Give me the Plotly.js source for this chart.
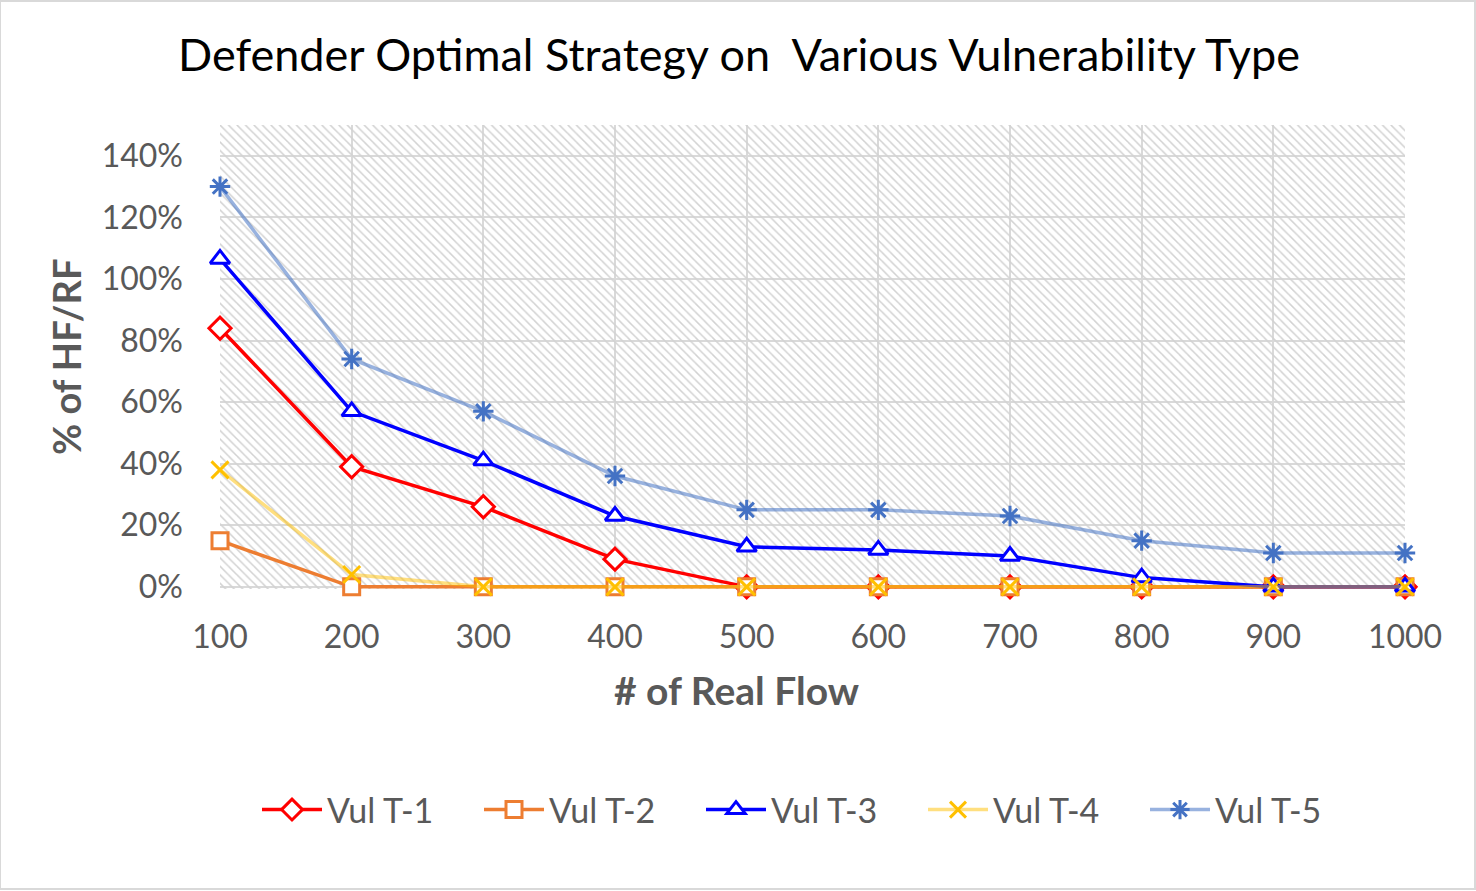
<!DOCTYPE html>
<html>
<head>
<meta charset="utf-8">
<script src="https://cdn.plot.ly/plotly-3.0.1.min.js"></script>
<style>
  body { margin: 0; background: #fff; }
  #chart { width: 1476px; height: 891px; }
</style>
</head>
<body>
<div id="chart"></div>
<script>
var flows = [100, 200, 300, 400, 500, 600, 700, 800, 900, 1000];

var vulT1 = [0.84, 0.39, 0.26, 0.09, 0, 0, 0, 0, 0, 0];
var vulT2 = [0.15, 0, 0, 0, 0, 0, 0, 0, 0, 0];
var vulT3 = [1.065, 0.57, 0.41, 0.23, 0.13, 0.12, 0.10, 0.03, 0, 0];
var vulT4 = [0.38, 0.04, 0, 0, 0, 0, 0, 0, 0, 0];
var vulT5 = [1.30, 0.74, 0.57, 0.36, 0.25, 0.25, 0.23, 0.15, 0.11, 0.11];

var xRange = [100, 1000];
var yRange = [-0.007, 1.5];   // tiny slack below 0 so the zero-level lines are not cut in half
var yTicks = [0, 0.2, 0.4, 0.6, 0.8, 1.0, 1.2, 1.4];
var yTickText = ['0%', '20%', '40%', '60%', '80%', '100%', '120%', '140%'];

var fontFam = 'Lato, "Open Sans", sans-serif';
var grey = '#595959';
var plotH = 891 - 125 - 302;

// hatched plot background, transparent between stripes so the grid shows
var hatch = {
  x: [xRange[0], xRange[1], xRange[1], xRange[0], xRange[0]],
  y: [yRange[0], yRange[0], yRange[1], yRange[1], yRange[0]],
  mode: 'lines',
  line: {width: 0},
  fill: 'toself',
  fillcolor: 'rgba(0,0,0,0)',
  fillpattern: {shape: '\\', fgcolor: '#d2d2d2', bgcolor: 'rgba(255,255,255,0)', size: 6, solidity: 0.25},
  hoverinfo: 'skip',
  showlegend: false
};

function series(name, y, lineColor, sym, mColor, mLine, size) {
  return {
    x: flows, y: y, name: name,
    type: 'scatter', mode: 'lines+markers',
    cliponaxis: false,
    line: {color: lineColor, width: 3.5},
    marker: {symbol: sym, size: size, color: mColor, line: {color: mLine, width: 3}}
  };
}

var data = [
  hatch,
  series('Vul T-1', vulT1, '#ff0000', 'diamond', '#ffffff', '#ff0000', 17),
  series('Vul T-2', vulT2, '#ed7d31', 'square', '#ffffff', '#ed7d31', 16),
  series('Vul T-3', vulT3, '#0000ff', 'triangle-up', '#ffffff', '#0000ff', 17),
  series('Vul T-4', vulT4, 'rgba(255,192,0,0.5)', 'x-thin-open', '#ffc000', '#ffc000', 17),
  series('Vul T-5', vulT5, 'rgba(68,114,196,0.55)', 'asterisk-open', '#4472c4', '#4472c4', 17)
];

var layout = {
  width: 1476, height: 891,
  margin: {l: 220, r: 71, t: 125, b: 302},
  paper_bgcolor: '#ffffff',
  plot_bgcolor: '#ffffff',
  font: {family: fontFam, color: grey},
  showlegend: true,
  title: {
    text: 'Defender Optimal Strategy on  Various Vulnerability Type',
    font: {size: 45, color: '#000000', family: fontFam},
    x: 739 / 1476, xref: 'container', xanchor: 'center',
    y: 1 - 55 / 891, yref: 'container', yanchor: 'middle'
  },
  xaxis: {
    range: xRange, tickvals: flows, ticktext: flows.map(String),
    showgrid: true, gridcolor: '#d9d9d9', gridwidth: 2,
    zeroline: false, showline: false,
    ticks: '', ticklabelstandoff: 26, tickangle: 0,
    tickfont: {size: 32, color: grey}
  },
  yaxis: {
    range: yRange, tickvals: yTicks, ticktext: yTickText,
    showgrid: true, gridcolor: '#d9d9d9', gridwidth: 2,
    zeroline: false, showline: false,
    ticks: '', ticklabelstandoff: 36,
    tickfont: {size: 32, color: grey}
  },
  legend: {
    orientation: 'h',
    x: (812 - 220) / 1185, xanchor: 'center',
    y: -(810 - 589) / plotH, yanchor: 'middle',
    entrywidth: 147,
    itemwidth: 60,
    font: {size: 34, color: grey}
  },
  annotations: [
    {
      text: '<b># of Real Flow</b>', xref: 'paper', yref: 'paper',
      x: (736 - 220) / 1185, y: -(690 - 589) / plotH,
      xanchor: 'center', yanchor: 'middle', showarrow: false,
      font: {size: 39, color: grey}
    },
    {
      text: '<b>% of HF/RF</b>', xref: 'paper', yref: 'paper',
      x: -(220 - 66) / 1185, y: 0.5, textangle: -90,
      xanchor: 'center', yanchor: 'middle', showarrow: false,
      font: {size: 38, color: grey}
    }
  ],
  shapes: [
    {type: 'rect', xref: 'paper', yref: 'paper',
     x0: -220 / 1185, x1: 1 + 70 / 1185, y0: -300 / plotH, y1: 1 + 124 / plotH,
     line: {color: '#d9d9d9', width: 2}, fillcolor: 'rgba(0,0,0,0)', layer: 'below'}
  ]
};

Plotly.newPlot('chart', data, layout, {displayModeBar: false});
</script>
</body>
</html>
